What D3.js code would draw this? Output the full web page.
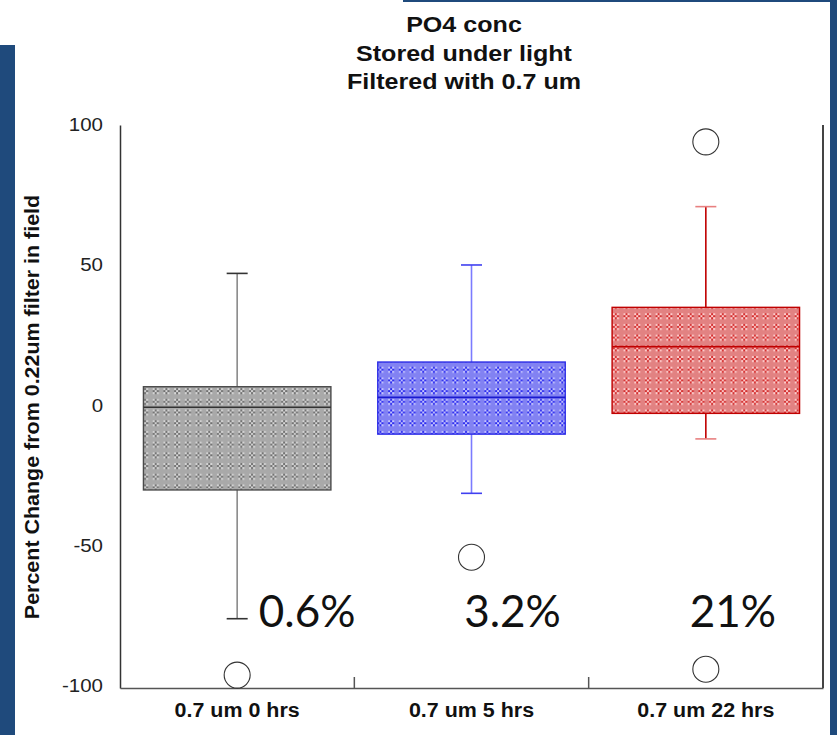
<!DOCTYPE html>
<html>
<head>
<meta charset="utf-8">
<script src="https://cdn.jsdelivr.net/npm/d3@7"></script>
<style>
  body { margin: 0; background: #fff; }
  svg { display: block; }
</style>
</head>
<body>
<div id="graph"></div>
<script>
// Box plot data (percent change)
const categories = ["0.7 um 0 hrs", "0.7 um 5 hrs", "0.7 um 22 hrs"]
const whiskerLow = [-76.0, -31.3, -11.9]
const q1 = [-30.1, -10.2, -2.8]
const median = [-0.6, 2.9, 21.0]
const q3 = [6.7, 15.5, 35.0]
const whiskerHigh = [47.1, 50.1, 70.9]
const outliers = [[-96.1], [-54.1], [94.0, -94.0]]
const annotations = ["0.6%", "3.2%", "21%"]
const yTicks = [-100, -50, 0, 50, 100]
const titleLines = ["PO4 conc", "Stored under light", "Filtered with 0.7 um"]

// styling per box
const boxStyles = [
  { fill: "#a9a9a9", light: "#d8d8d8", dark: "#6e6e6e", stroke: "#4a4a4a", median: "#333", whisker: "#8a8a8a", cap: "#333" },
  { fill: "#8282f2", light: "#c8c8ff", dark: "#2a2af0", stroke: "#2b2be6", median: "#1a1ad0", whisker: "#7b7bff", cap: "#4040f0" },
  { fill: "#e28282", light: "#ffd2d2", dark: "#d42a2a", stroke: "#c00000", median: "#c00000", whisker: "#c00000", cap: "#e88080" }
]

const width = 837, height = 735
const svg = d3.select('#graph').append('svg').attr('width', width).attr('height', height)

// frame decoration (slide border)
const blue = "#1f4a7c"
svg.append('rect').attr('x', 0).attr('y', 45).attr('width', 15).attr('height', height - 45).attr('fill', blue)
svg.append('rect').attr('x', 830).attr('y', 0).attr('width', 7).attr('height', height).attr('fill', blue)
svg.append('rect').attr('x', 403).attr('y', 0).attr('width', 434).attr('height', 2).attr('fill', blue)

const plotLeft = 120, plotRight = 823, plotTop = 125, plotBottom = 688

const x = d3.scaleBand().domain(categories).range([plotLeft, plotRight]).padding(0)
const y = d3.scaleLinear().domain([-100.7, 100]).range([plotBottom, plotTop])
const boxW = x.bandwidth() * 0.8
const capW = 21
const stretch = 1.14

// horizontal stretch of a text selection (the original is a bit wide)
function widen(sel, k) {
  sel.each(function() {
    const w = this.getComputedTextLength()
    d3.select(this).attr('textLength', w * k).attr('lengthAdjust', 'spacingAndGlyphs')
  })
}

// patterns for the box fills
const defs = svg.append('defs')
boxStyles.forEach((s, i) => {
  const p = defs.append('pattern').attr('id', 'pat' + i)
    .attr('patternUnits', 'userSpaceOnUse').attr('width', 10.7).attr('height', 10.7)
  p.append('rect').attr('width', 10.7).attr('height', 10.7).attr('fill', s.fill)
  const cells = [[0, 0, s.light], [2, 0, s.dark], [0, 2, s.dark], [2, 2, s.light],
                 [4, 0, s.light], [4, 2, s.dark], [0, 4, s.light], [2, 4, s.dark], [4, 4, s.light]]
  cells.forEach(c => p.append('rect').attr('x', 3 + c[0]).attr('y', 3 + c[1]).attr('width', 2).attr('height', 2).attr('fill', c[2]))
})

// title
svg.append('g').selectAll('text').data(titleLines).enter().append('text')
  .attr('x', 464).attr('y', (d, i) => 32 + i * 28.5)
  .attr('text-anchor', 'middle')
  .style('font-family', '"Liberation Sans", Arial, sans-serif')
  .style('font-weight', 'bold').style('font-size', '22px').style('fill', '#111')
  .text(d => d)
  .call(widen, stretch)

// y axis (plain hyphen for negatives, like the original)
const yAxis = svg.append('g').attr('transform', `translate(${plotLeft},0)`)
  .call(d3.axisLeft(y).tickValues(yTicks).tickFormat(d => String(d)).tickSize(0).tickPadding(17).tickSizeOuter(0))
yAxis.select('.domain').attr('stroke', '#333').attr('stroke-width', 1.5)
yAxis.selectAll('text')
  .style('font-family', '"Liberation Sans", Arial, sans-serif')
  .style('font-size', '17.5px').style('fill', '#222')
  .call(widen, 1.17)

// right frame line
svg.append('line').attr('x1', plotRight).attr('x2', plotRight).attr('y1', plotTop).attr('y2', plotBottom)
  .attr('stroke', '#444').attr('stroke-width', 2)

// x axis
const xAxis = svg.append('g').attr('transform', `translate(0,${plotBottom})`)
  .call(d3.axisBottom(x).tickSize(0).tickSizeOuter(0))
xAxis.select('.domain').attr('stroke', '#555').attr('stroke-width', 1.5)
xAxis.selectAll('text')
  .attr('y', 28.5).attr('dy', 0)
  .style('font-family', '"Liberation Sans", Arial, sans-serif')
  .style('font-weight', 'bold').style('font-size', '19.5px').style('fill', '#111')
  .call(widen, 1.1)
// inner ticks between the categories
xAxis.selectAll('.sep').data(categories.slice(1)).enter().append('line')
  .attr('x1', d => x(d)).attr('x2', d => x(d)).attr('y1', 0).attr('y2', -11)
  .attr('stroke', '#555').attr('stroke-width', 1.5)

// y axis title
svg.append('text')
  .attr('transform', 'translate(39,407) rotate(-90)')
  .attr('text-anchor', 'middle')
  .style('font-family', '"Liberation Sans", Arial, sans-serif')
  .style('font-weight', 'bold').style('font-size', '19.5px').style('fill', '#111')
  .text('Percent Change from 0.22um filter in field')
  .call(widen, 1.1)

// boxes
const boxes = categories.map((c, i) => ({ cat: c, i: i, lo: whiskerLow[i], q1: q1[i], med: median[i], q3: q3[i], hi: whiskerHigh[i], out: outliers[i] }))
const cx = d => x(d.cat) + x.bandwidth() / 2

const g = svg.append('g').selectAll('g').data(boxes).enter().append('g')

// whiskers
g.append('line').attr('x1', cx).attr('x2', cx).attr('y1', d => y(d.q3)).attr('y2', d => y(d.hi))
  .attr('stroke', d => boxStyles[d.i].whisker).attr('stroke-width', 1.6)
g.append('line').attr('x1', cx).attr('x2', cx).attr('y1', d => y(d.q1)).attr('y2', d => y(d.lo))
  .attr('stroke', d => boxStyles[d.i].whisker).attr('stroke-width', 1.6)
g.append('line').attr('x1', d => cx(d) - capW / 2).attr('x2', d => cx(d) + capW / 2)
  .attr('y1', d => y(d.hi)).attr('y2', d => y(d.hi))
  .attr('stroke', d => boxStyles[d.i].cap).attr('stroke-width', 1.6)
g.append('line').attr('x1', d => cx(d) - capW / 2).attr('x2', d => cx(d) + capW / 2)
  .attr('y1', d => y(d.lo)).attr('y2', d => y(d.lo))
  .attr('stroke', d => boxStyles[d.i].cap).attr('stroke-width', 1.6)

// box
g.append('rect')
  .attr('x', d => cx(d) - boxW / 2).attr('width', boxW)
  .attr('y', d => y(d.q3)).attr('height', d => y(d.q1) - y(d.q3))
  .attr('fill', d => `url(#pat${d.i})`)
  .attr('stroke', d => boxStyles[d.i].stroke).attr('stroke-width', 1.4)

// median
g.append('line').attr('x1', d => cx(d) - boxW / 2).attr('x2', d => cx(d) + boxW / 2)
  .attr('y1', d => y(d.med)).attr('y2', d => y(d.med))
  .attr('stroke', d => boxStyles[d.i].median).attr('stroke-width', 1.6)

// outliers
g.selectAll('circle').data(d => d.out.map(v => ({ d: d, v: v }))).enter().append('circle')
  .attr('cx', o => cx(o.d)).attr('cy', o => y(o.v)).attr('r', 13)
  .attr('fill', '#fff').attr('stroke', '#333').attr('stroke-width', 1.1)

// percent labels under each box
const annoOffset = [70, 41, 27]
g.append('text')
  .attr('x', d => cx(d) + annoOffset[d.i]).attr('y', 627)
  .attr('text-anchor', 'middle')
  .style('font-family', 'Lato, "Open Sans", sans-serif')
  .style('font-size', '44px').style('fill', '#111')
  .text(d => annotations[d.i])
</script>
</body>
</html>
